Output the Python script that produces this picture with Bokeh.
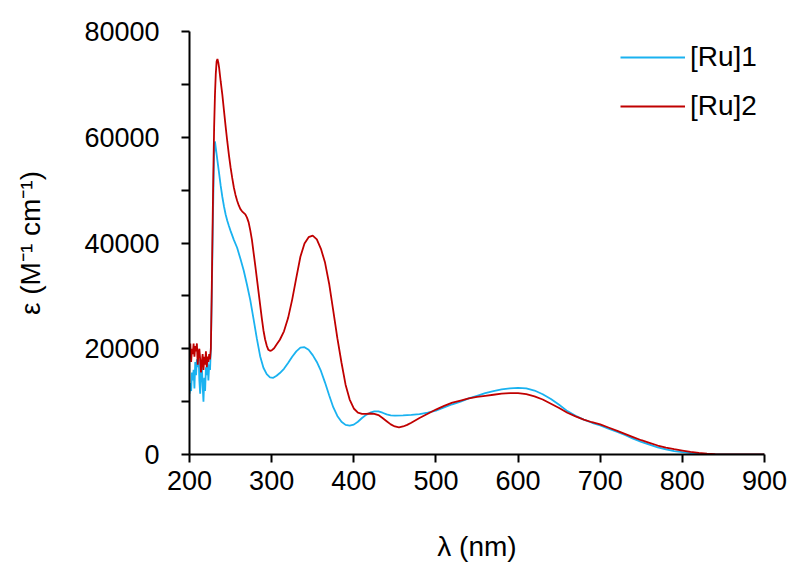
from bokeh.plotting import figure
from bokeh.models import Range1d, FixedTicker, Legend, LegendItem, BasicTickFormatter
from bokeh.embed import file_html
from bokeh.resources import INLINE

# ---------------- data ----------------
# noisy region 200-226 nm
wl_a = [200, 201, 202, 203, 204, 205, 206, 207, 208, 209, 210, 211, 212, 213,
        214, 215, 216, 217, 218, 219, 220, 221, 222, 223, 224, 225]
ru1_a = [11500, 13500, 12000, 15500, 14000, 16000, 12500, 17500, 15000, 18000, 16500, 19500, 14000, 11500,
         15500, 17000, 13000, 10000, 14500, 12000, 16500, 15000, 18000, 14000, 17000, 16000]
ru2_a = [18500, 21000, 17500, 20000, 19000, 21000, 18500, 20500, 19500, 21000, 17000, 19500, 20000, 18000,
         15500, 17500, 19000, 16000, 18500, 17000, 19500, 16500, 18500, 17500, 19000, 18000]

# [Ru]1 main bands
wl_1 = [226, 227, 228, 229, 230, 231, 232, 234, 236, 238, 240, 242, 244, 246, 248, 250, 254, 258,
        262, 266, 270, 274, 278, 282, 286, 290, 294, 298, 302, 306, 310, 315, 320, 325, 330, 335,
        340, 345, 350, 355, 360, 365, 370, 375, 380, 385, 390, 395, 400, 405, 410, 415, 420, 425,
        430, 435, 440, 445, 450, 460, 470, 480, 490, 500, 510, 520, 530, 540, 550, 560, 570, 580,
        590, 600, 610, 620, 630, 640, 650, 660, 670, 680, 690, 700, 710, 720, 730, 740, 750, 760,
        770, 780, 790, 800, 810, 820, 830, 840, 850, 875, 900]
ru1_b = [20000, 29000, 39000, 49000, 57000, 59200, 58000, 55600, 53200, 50800, 48700, 46900, 45400, 44200,
         43200, 42300, 40600, 39100, 37000, 34800, 32100, 29200, 25600, 21900, 18600, 16400, 15200, 14600,
         14500, 14900, 15400, 16200, 17300, 18500, 19500, 20200, 20300, 19800, 18800, 17500, 15800, 13600,
         11200, 8950, 7300, 6200, 5600, 5450, 5650, 6200, 6900, 7500, 7900, 8150, 8150, 7900, 7600, 7400,
         7350, 7400, 7500, 7650, 7900, 8300, 8900, 9500, 10000, 10600, 11100, 11600, 12000, 12300, 12500,
         12600, 12500, 12100, 11400, 10500, 9400, 8200, 7300, 6600, 6000, 5500, 4900, 4300, 3700, 3000,
         2400, 1850, 1350, 950, 650, 450, 280, 150, 80, 30, 0, 0, 0]

# [Ru]2 main bands
wl_2 = [226, 227, 228, 229, 230, 231, 232, 233, 234, 235, 236, 238, 240, 242, 244, 246, 248, 250,
        252, 254, 256, 258, 260, 262, 264, 266, 268, 270, 272, 274, 276, 278, 280, 282, 284, 286,
        288, 290, 292, 294, 296, 298, 300, 303, 306, 310, 315, 320, 325, 330, 335, 340, 345, 350,
        355, 360, 365, 370, 375, 380, 385, 390, 395, 400, 405, 410, 415, 420, 425, 430, 435, 440,
        445, 450, 455, 460, 465, 470, 480, 490, 500, 510, 520, 530, 540, 550, 560, 570, 580, 590,
        600, 610, 620, 630, 640, 650, 660, 670, 680, 690, 700, 710, 720, 730, 740, 750, 760, 770,
        780, 790, 800, 810, 820, 830, 840, 850, 875, 900]
ru2_b = [20000, 30000, 42000, 53000, 62000, 68000, 72000, 74300, 74800, 74200, 73200, 70500, 68000, 65000,
         62000, 59200, 56600, 54300, 52300, 50500, 49100, 48000, 47100, 46400, 46000, 45700, 45400, 44800,
         43900, 42400, 40600, 38200, 35800, 33300, 30800, 28300, 25800, 23500, 21800, 20600, 19800, 19600,
         19700, 20100, 20800, 21700, 23300, 25800, 29300, 33400, 37400, 39900, 41100, 41400, 40700, 38900,
         36300, 32300, 27200, 22000, 17400, 13200, 10400, 8700, 7900, 7700, 7700, 7750, 7700, 7450, 6900,
         6300, 5700, 5300, 5150, 5300, 5600, 6000, 6900, 7700, 8500, 9200, 9800, 10200, 10600, 10900, 11100,
         11300, 11500, 11600, 11600, 11400, 11000, 10400, 9600, 8800, 7900, 7200, 6600, 6100, 5700, 5100,
         4500, 3900, 3300, 2700, 2200, 1700, 1300, 1000, 750, 500, 300, 180, 80, 30, 0, 0]

x_ticks = [200, 300, 400, 500, 600, 700, 800, 900]
y_ticks = [0, 20000, 40000, 60000, 80000]
y_minor = [10000, 30000, 50000, 70000]

wl_ru1 = wl_a + wl_1
ru1 = ru1_a + ru1_b
wl_ru2 = wl_a + wl_2
ru2 = ru2_a + ru2_b

FONT = "Liberation Sans"

p = figure(width=792, height=571, output_backend="svg", toolbar_location=None,
           x_range=Range1d(200, 900), y_range=Range1d(0, 80000),
           min_border_left=189, min_border_right=28, min_border_top=31, min_border_bottom=117)
p.outline_line_color = None
p.xgrid.visible = False
p.ygrid.visible = False

l1 = p.line(wl_ru1, ru1, line_color="#1AB2F0", line_width=1.8)
l2 = p.line(wl_ru2, ru2, line_color="#C00000", line_width=1.8)

for ax in (p.xaxis[0], p.yaxis[0]):
    ax.axis_line_color = "black"
    ax.axis_line_width = 2
    ax.major_tick_line_color = "black"
    ax.major_tick_line_width = 2
    ax.major_tick_in = 0
    ax.major_tick_out = 8
    ax.major_label_text_font = FONT
    ax.major_label_text_font_size = "27px"
    ax.major_label_text_color = "black"
    ax.axis_label_text_font = FONT
    ax.axis_label_text_font_size = "28px"
    ax.axis_label_text_font_style = "normal"
    ax.axis_label_text_color = "black"

p.xaxis.ticker = FixedTicker(ticks=x_ticks)
p.xaxis.minor_tick_line_color = None
p.xaxis.major_label_standoff = 8
p.xaxis.axis_label = "λ (nm)"
p.xaxis.axis_label_standoff = 38

p.yaxis.ticker = FixedTicker(ticks=y_ticks, minor_ticks=y_minor)
p.yaxis.formatter = BasicTickFormatter(use_scientific=False)
p.yaxis.minor_tick_line_color = "black"
p.yaxis.minor_tick_line_width = 2
p.yaxis.minor_tick_in = 0
p.yaxis.minor_tick_out = 8
p.yaxis.major_label_standoff = 22
p.yaxis.axis_label = "ε (M⁻¹ cm⁻¹)"
p.yaxis.axis_label_standoff = 35

legend = Legend(items=[LegendItem(label="[Ru]1", renderers=[l1]),
                       LegendItem(label="[Ru]2", renderers=[l2])],
                location=(431, 332), orientation="vertical",
                glyph_width=65, glyph_height=24, label_height=30, spacing=17,
                label_standoff=5, padding=0, margin=0,
                border_line_color=None, background_fill_alpha=0,
                label_text_font=FONT, label_text_font_size="28px", label_text_color="black")
p.add_layout(legend)

open("out.html", "w").write(file_html(p, INLINE))
